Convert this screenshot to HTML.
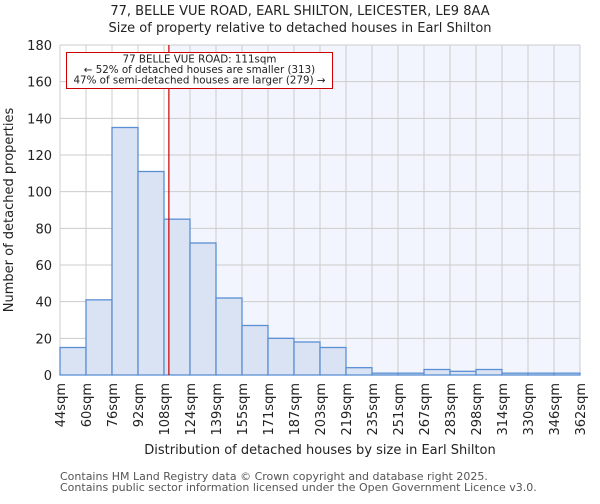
<!DOCTYPE html>
<html><head><meta charset="utf-8"><style>
body{margin:0;background:#fff;font-family:"DejaVu Sans","Liberation Sans",sans-serif}
</style></head><body>
<svg id="chart" width="600" height="500" xmlns="http://www.w3.org/2000/svg" font-family="DejaVu Sans, Liberation Sans, sans-serif">
<text x="300" y="15" text-anchor="middle" font-size="13" fill="#222">77, BELLE VUE ROAD, EARL SHILTON, LEICESTER, LE9 8AA</text>
<text x="300" y="32" text-anchor="middle" font-size="13" fill="#222">Size of property relative to detached houses in Earl Shilton</text>
<rect x="60" y="45" width="520" height="330" fill="#ffffff"/>
<g id="bg"></g><g id="grid"></g><g id="bars"></g><g id="yticks"></g><g id="xticks"></g>
<text transform="translate(13,210) rotate(-90)" text-anchor="middle" font-size="13" fill="#222">Number of detached properties</text>
<text x="320" y="454" text-anchor="middle" font-size="13" fill="#222">Distribution of detached houses by size in Earl Shilton</text>
<text x="60" y="480" font-size="11" fill="#555">Contains HM Land Registry data © Crown copyright and database right 2025.</text>
<text x="60" y="491" font-size="11" fill="#555">Contains public sector information licensed under the Open Government Licence v3.0.</text>
<g id="marker"></g>
</svg>
<script>
const binEdges=[44,60,76,92,108,124,139,155,171,187,203,219,235,251,267,283,298,314,330,346,362];
const tickLabels=["44sqm","60sqm","76sqm","92sqm","108sqm","124sqm","139sqm","155sqm","171sqm","187sqm","203sqm","219sqm","235sqm","251sqm","267sqm","283sqm","298sqm","314sqm","330sqm","346sqm","362sqm"];
const counts=[15,41,135,111,85,72,42,27,20,18,15,4,1,1,3,2,3,1,1,1];
const yTicks=[0,20,40,60,80,100,120,140,160,180];
const propertySize=111;
const annotationLines=["77 BELLE VUE ROAD: 111sqm","← 52% of detached houses are smaller (313)","47% of semi-detached houses are larger (279) →"];
const X0=60,X1=580,Y0=375,Y1=45,YMAX=180;
const NS="http://www.w3.org/2000/svg";
const bw=(X1-X0)/counts.length;
function xi(i){return X0+i*bw;}
function xv(v){for(let i=0;i<binEdges.length-1;i++){if(v<=binEdges[i+1])return xi(i)+(v-binEdges[i])/(binEdges[i+1]-binEdges[i])*bw;}return X1;}
function y(v){return Y0-(v/YMAX)*(Y0-Y1);}
function mk(t,a,p){const e=document.createElementNS(NS,t);for(const k in a)e.setAttribute(k,a[k]);p.appendChild(e);return e;}
const bg=document.getElementById('bg'),grid=document.getElementById('grid'),bars=document.getElementById('bars'),yt=document.getElementById('yticks'),xt=document.getElementById('xticks'),mg=document.getElementById('marker');
const mx=xv(propertySize);
const sh=mk('rect',{x:mx,y:Y1,width:X1-mx,height:Y0-Y1,fill:'#f2f5fd'},bg);


yTicks.forEach(v=>{
 const l=mk('line',{x1:X0,x2:X1,y1:y(v),y2:y(v),stroke:'#cccccc','stroke-width':1},grid);
 
 
 const t=mk('text',{x:X0-8,y:y(v)+5,'text-anchor':'end','font-size':13,fill:'#222'},yt);
 t.textContent=v;
 
 
});
tickLabels.forEach((s,i)=>{
 const x=xi(i);
 const l=mk('line',{x1:x,x2:x,y1:Y1,y2:Y0,stroke:'#cccccc','stroke-width':1},grid);
 
 
 const t=mk('text',{transform:`translate(${x+5},${Y0+8}) rotate(-90)`,'text-anchor':'end','font-size':13,fill:'#222'},xt);
 t.textContent=s;
 
 
});
counts.forEach((c,i)=>{
 const r=mk('rect',{x:xi(i),y:y(c),width:bw,height:Y0-y(c),fill:'#dae3f3',stroke:'#5b8fd4','stroke-width':1.3},bars);
 
 
});
const ml=mk('line',{x1:mx,x2:mx,y1:Y1,y2:Y0,stroke:'#cc0000','stroke-width':1.2},mg);


const box=mk('rect',{x:66.5,y:52.5,width:266,height:36,fill:'#fff',stroke:'#cc0000','stroke-width':1},mg);


annotationLines.forEach((s,i)=>{
 const t=mk('text',{x:199.5,y:62.5+i*10.5,'text-anchor':'middle','font-size':10.3,fill:'#222'},mg);
 t.textContent=s;
 
 
});
</script>
</body></html>
